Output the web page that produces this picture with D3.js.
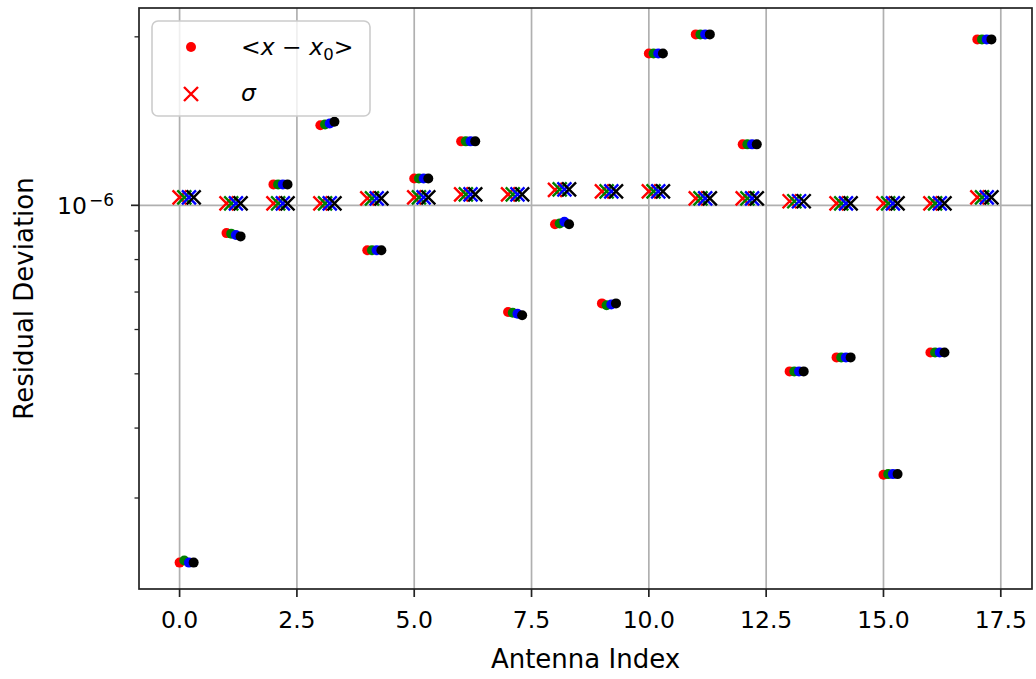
<!DOCTYPE html>
<html>
<head>
<meta charset="utf-8">
<script src="https://cdn.jsdelivr.net/npm/d3@7"></script>
<style>
  body { margin: 0; background: #fff; }
  text { font-family: "DejaVu Sans", sans-serif; fill: #000; }
</style>
</head>
<body>
<svg id="chart" width="1036" height="679"></svg>
<script>
// Antenna indices and the four per-antenna series (x offset 0, 0.1, 0.2, 0.3)
const antennaIndex = [0, 1, 2, 3, 4, 5, 6, 7, 8, 9, 10, 11, 12, 13, 14, 15, 16, 17];
const seriesOffsets = [0, 0.1, 0.2, 0.3];
const seriesColors = ["#ff0000", "#008000", "#0000ff", "#000000"];

// Mean residual <x - x0> per antenna, one array per series
const meanRed   = [0.230e-6, 0.892e-6, 1.090e-6, 1.390e-6, 0.831e-6, 1.117e-6, 1.301e-6, 0.645e-6, 0.925e-6, 0.668e-6, 1.868e-6, 2.020e-6, 1.285e-6, 0.505e-6, 0.535e-6, 0.330e-6, 0.546e-6, 1.979e-6];
const meanGreen = [0.232e-6, 0.890e-6, 1.090e-6, 1.395e-6, 0.831e-6, 1.117e-6, 1.301e-6, 0.643e-6, 0.928e-6, 0.663e-6, 1.868e-6, 2.020e-6, 1.285e-6, 0.505e-6, 0.535e-6, 0.331e-6, 0.546e-6, 1.979e-6];
const meanBlue  = [0.230e-6, 0.885e-6, 1.090e-6, 1.400e-6, 0.831e-6, 1.117e-6, 1.301e-6, 0.640e-6, 0.935e-6, 0.665e-6, 1.868e-6, 2.020e-6, 1.285e-6, 0.505e-6, 0.535e-6, 0.331e-6, 0.546e-6, 1.979e-6];
const meanBlack = [0.230e-6, 0.880e-6, 1.090e-6, 1.410e-6, 0.831e-6, 1.117e-6, 1.301e-6, 0.636e-6, 0.925e-6, 0.668e-6, 1.868e-6, 2.020e-6, 1.285e-6, 0.505e-6, 0.535e-6, 0.331e-6, 0.546e-6, 1.979e-6];

// Standard deviation sigma per antenna, one array per series
const sigmaRed   = [1.033e-6, 1.008e-6, 1.008e-6, 1.008e-6, 1.029e-6, 1.033e-6, 1.046e-6, 1.046e-6, 1.066e-6, 1.059e-6, 1.059e-6, 1.029e-6, 1.029e-6, 1.017e-6, 1.008e-6, 1.008e-6, 1.008e-6, 1.033e-6];
const sigmaGreen = [1.033e-6, 1.008e-6, 1.008e-6, 1.008e-6, 1.029e-6, 1.033e-6, 1.046e-6, 1.046e-6, 1.068e-6, 1.059e-6, 1.059e-6, 1.029e-6, 1.029e-6, 1.017e-6, 1.008e-6, 1.008e-6, 1.008e-6, 1.033e-6];
const sigmaBlue  = [1.033e-6, 1.008e-6, 1.008e-6, 1.008e-6, 1.029e-6, 1.033e-6, 1.046e-6, 1.046e-6, 1.068e-6, 1.059e-6, 1.059e-6, 1.029e-6, 1.029e-6, 1.017e-6, 1.008e-6, 1.008e-6, 1.008e-6, 1.033e-6];
const sigmaBlack = [1.033e-6, 1.008e-6, 1.008e-6, 1.008e-6, 1.029e-6, 1.033e-6, 1.046e-6, 1.046e-6, 1.068e-6, 1.059e-6, 1.059e-6, 1.029e-6, 1.029e-6, 1.017e-6, 1.008e-6, 1.008e-6, 1.008e-6, 1.033e-6];

// Axis ticks
const xTicks = [0, 2.5, 5, 7.5, 10, 12.5, 15, 17.5];
const xTickLabels = ["0.0", "2.5", "5.0", "7.5", "10.0", "12.5", "15.0", "17.5"];
const yMajorTicks = [1e-6];
const yMinorTicks = [2e-7, 3e-7, 4e-7, 5e-7, 6e-7, 7e-7, 8e-7, 9e-7, 2e-6, 3e-6];

const meanSeries = [meanRed, meanGreen, meanBlue, meanBlack];
const sigmaSeries = [sigmaRed, sigmaGreen, sigmaBlue, sigmaBlack];

const plot = { left: 139, right: 1032, top: 8, bottom: 589 };
const tickFont = 23.5, labelFont = 26;

const svg = d3.select("#chart");

// x domain: data extent with 5% padding
const xs = [];
seriesOffsets.forEach(o => antennaIndex.forEach(i => xs.push(i + o)));
const [xMin, xMax] = d3.extent(xs);
const xPad = (xMax - xMin) * 0.05;
const x = d3.scaleLinear().domain([xMin - xPad, xMax + xPad]).range([plot.left, plot.right]);

// y domain: log extent of every value with 5% padding in log space
const allY = meanSeries.flat().concat(sigmaSeries.flat());
const lmin = Math.log10(d3.min(allY)), lmax = Math.log10(d3.max(allY));
const lpad = (lmax - lmin) * 0.05;
const y = d3.scaleLog().domain([Math.pow(10, lmin - lpad), Math.pow(10, lmax + lpad)]).range([plot.bottom, plot.top]);

const inY = v => v >= y.domain()[0] && v <= y.domain()[1];

// Grid lines
const grid = svg.append("g");
grid.selectAll("line.vx").data(xTicks).join("line")
  .attr("x1", d => x(d)).attr("x2", d => x(d))
  .attr("y1", plot.top).attr("y2", plot.bottom)
  .attr("stroke", "#b0b0b0").attr("stroke-width", 1.7);
grid.selectAll("line.hy").data(yMajorTicks.filter(inY)).join("line")
  .attr("x1", plot.left).attr("x2", plot.right)
  .attr("y1", d => y(d)).attr("y2", d => y(d))
  .attr("stroke", "#b0b0b0").attr("stroke-width", 1.7);

// Marks: dots and crosses, series drawn in order red, green, blue, black
const dotR = 5;
const crossHalf = 7;
const crossPath = (cx, cy) =>
  `M${cx - crossHalf},${cy - crossHalf}L${cx + crossHalf},${cy + crossHalf}M${cx - crossHalf},${cy + crossHalf}L${cx + crossHalf},${cy - crossHalf}`;

seriesOffsets.forEach((off, s) => {
  const g = svg.append("g");
  const color = seriesColors[s];
  g.selectAll("circle").data(antennaIndex).join("circle")
    .attr("cx", i => x(i + off))
    .attr("cy", (i, k) => y(meanSeries[s][k]))
    .attr("r", dotR)
    .attr("fill", color);
  g.selectAll("path").data(antennaIndex).join("path")
    .attr("d", (i, k) => crossPath(x(i + off), y(sigmaSeries[s][k])))
    .attr("stroke", color).attr("stroke-width", 2.4).attr("fill", "none");
});

// Frame
svg.append("rect")
  .attr("x", plot.left).attr("y", plot.top)
  .attr("width", plot.right - plot.left).attr("height", plot.bottom - plot.top)
  .attr("fill", "none").attr("stroke", "#222").attr("stroke-width", 1.7);

// x axis
const xAxis = svg.append("g");
xAxis.selectAll("line").data(xTicks).join("line")
  .attr("x1", d => x(d)).attr("x2", d => x(d))
  .attr("y1", plot.bottom).attr("y2", plot.bottom + 8)
  .attr("stroke", "#222").attr("stroke-width", 1.7);
xAxis.selectAll("text").data(xTicks).join("text")
  .attr("x", d => x(d)).attr("y", 628)
  .attr("text-anchor", "middle").attr("font-size", tickFont)
  .attr("fill", "#222")
  .text((d, k) => xTickLabels[k]);
svg.append("text")
  .attr("x", (plot.left + plot.right) / 2).attr("y", 668)
  .attr("text-anchor", "middle").attr("font-size", labelFont)
  .attr("fill", "#222")
  .text("Antenna Index");

// y axis
const yAxis = svg.append("g");
yAxis.selectAll("line.maj").data(yMajorTicks.filter(inY)).join("line")
  .attr("x1", plot.left - 8).attr("x2", plot.left)
  .attr("y1", d => y(d)).attr("y2", d => y(d))
  .attr("stroke", "#222").attr("stroke-width", 1.7);
yAxis.selectAll("line.min").data(yMinorTicks.filter(inY)).join("line")
  .attr("x1", plot.left - 4.5).attr("x2", plot.left)
  .attr("y1", d => y(d)).attr("y2", d => y(d))
  .attr("stroke", "#222").attr("stroke-width", 1.3);
yMajorTicks.filter(inY).forEach(v => {
  const t = yAxis.append("text")
    .attr("x", plot.left - 25).attr("y", y(v) + 9)
    .attr("text-anchor", "end").attr("font-size", tickFont)
    .attr("fill", "#222");
  t.append("tspan").text("10");
  t.append("tspan").attr("dx", 2).attr("dy", -8).attr("font-size", 17).text("\u2212" + Math.round(-Math.log10(v)));
});
svg.append("text")
  .attr("transform", `translate(33,${(plot.top + plot.bottom) / 2}) rotate(-90)`)
  .attr("text-anchor", "middle").attr("font-size", labelFont)
  .attr("fill", "#222")
  .text("Residual Deviation");

// Legend
const lg = svg.append("g");
lg.append("rect")
  .attr("x", 152).attr("y", 21).attr("width", 218).attr("height", 95).attr("rx", 6)
  .attr("fill", "#fff").attr("fill-opacity", 0.8)
  .attr("stroke", "#cccccc").attr("stroke-width", 1.6);
lg.append("circle").attr("cx", 191).attr("cy", 47).attr("r", dotR).attr("fill", seriesColors[0]);
lg.append("path")
  .attr("d", crossPath(191, 94))
  .attr("stroke", seriesColors[0]).attr("stroke-width", 2.4);
const l1 = lg.append("text").attr("x", 241).attr("y", 55).attr("font-size", tickFont).attr("fill", "#222");
l1.append("tspan").text("<");
l1.append("tspan").attr("font-style", "italic").text("x");
l1.append("tspan").text(" \u2212 ");
l1.append("tspan").attr("font-style", "italic").text("x");
l1.append("tspan").attr("dy", 5).attr("font-size", 16.5).text("0");
l1.append("tspan").attr("dy", -5).text(">");
lg.append("text").attr("x", 241).attr("y", 101).attr("font-size", tickFont)
  .attr("font-style", "italic").attr("fill", "#222").text("\u03c3");
</script>
</body>
</html>
